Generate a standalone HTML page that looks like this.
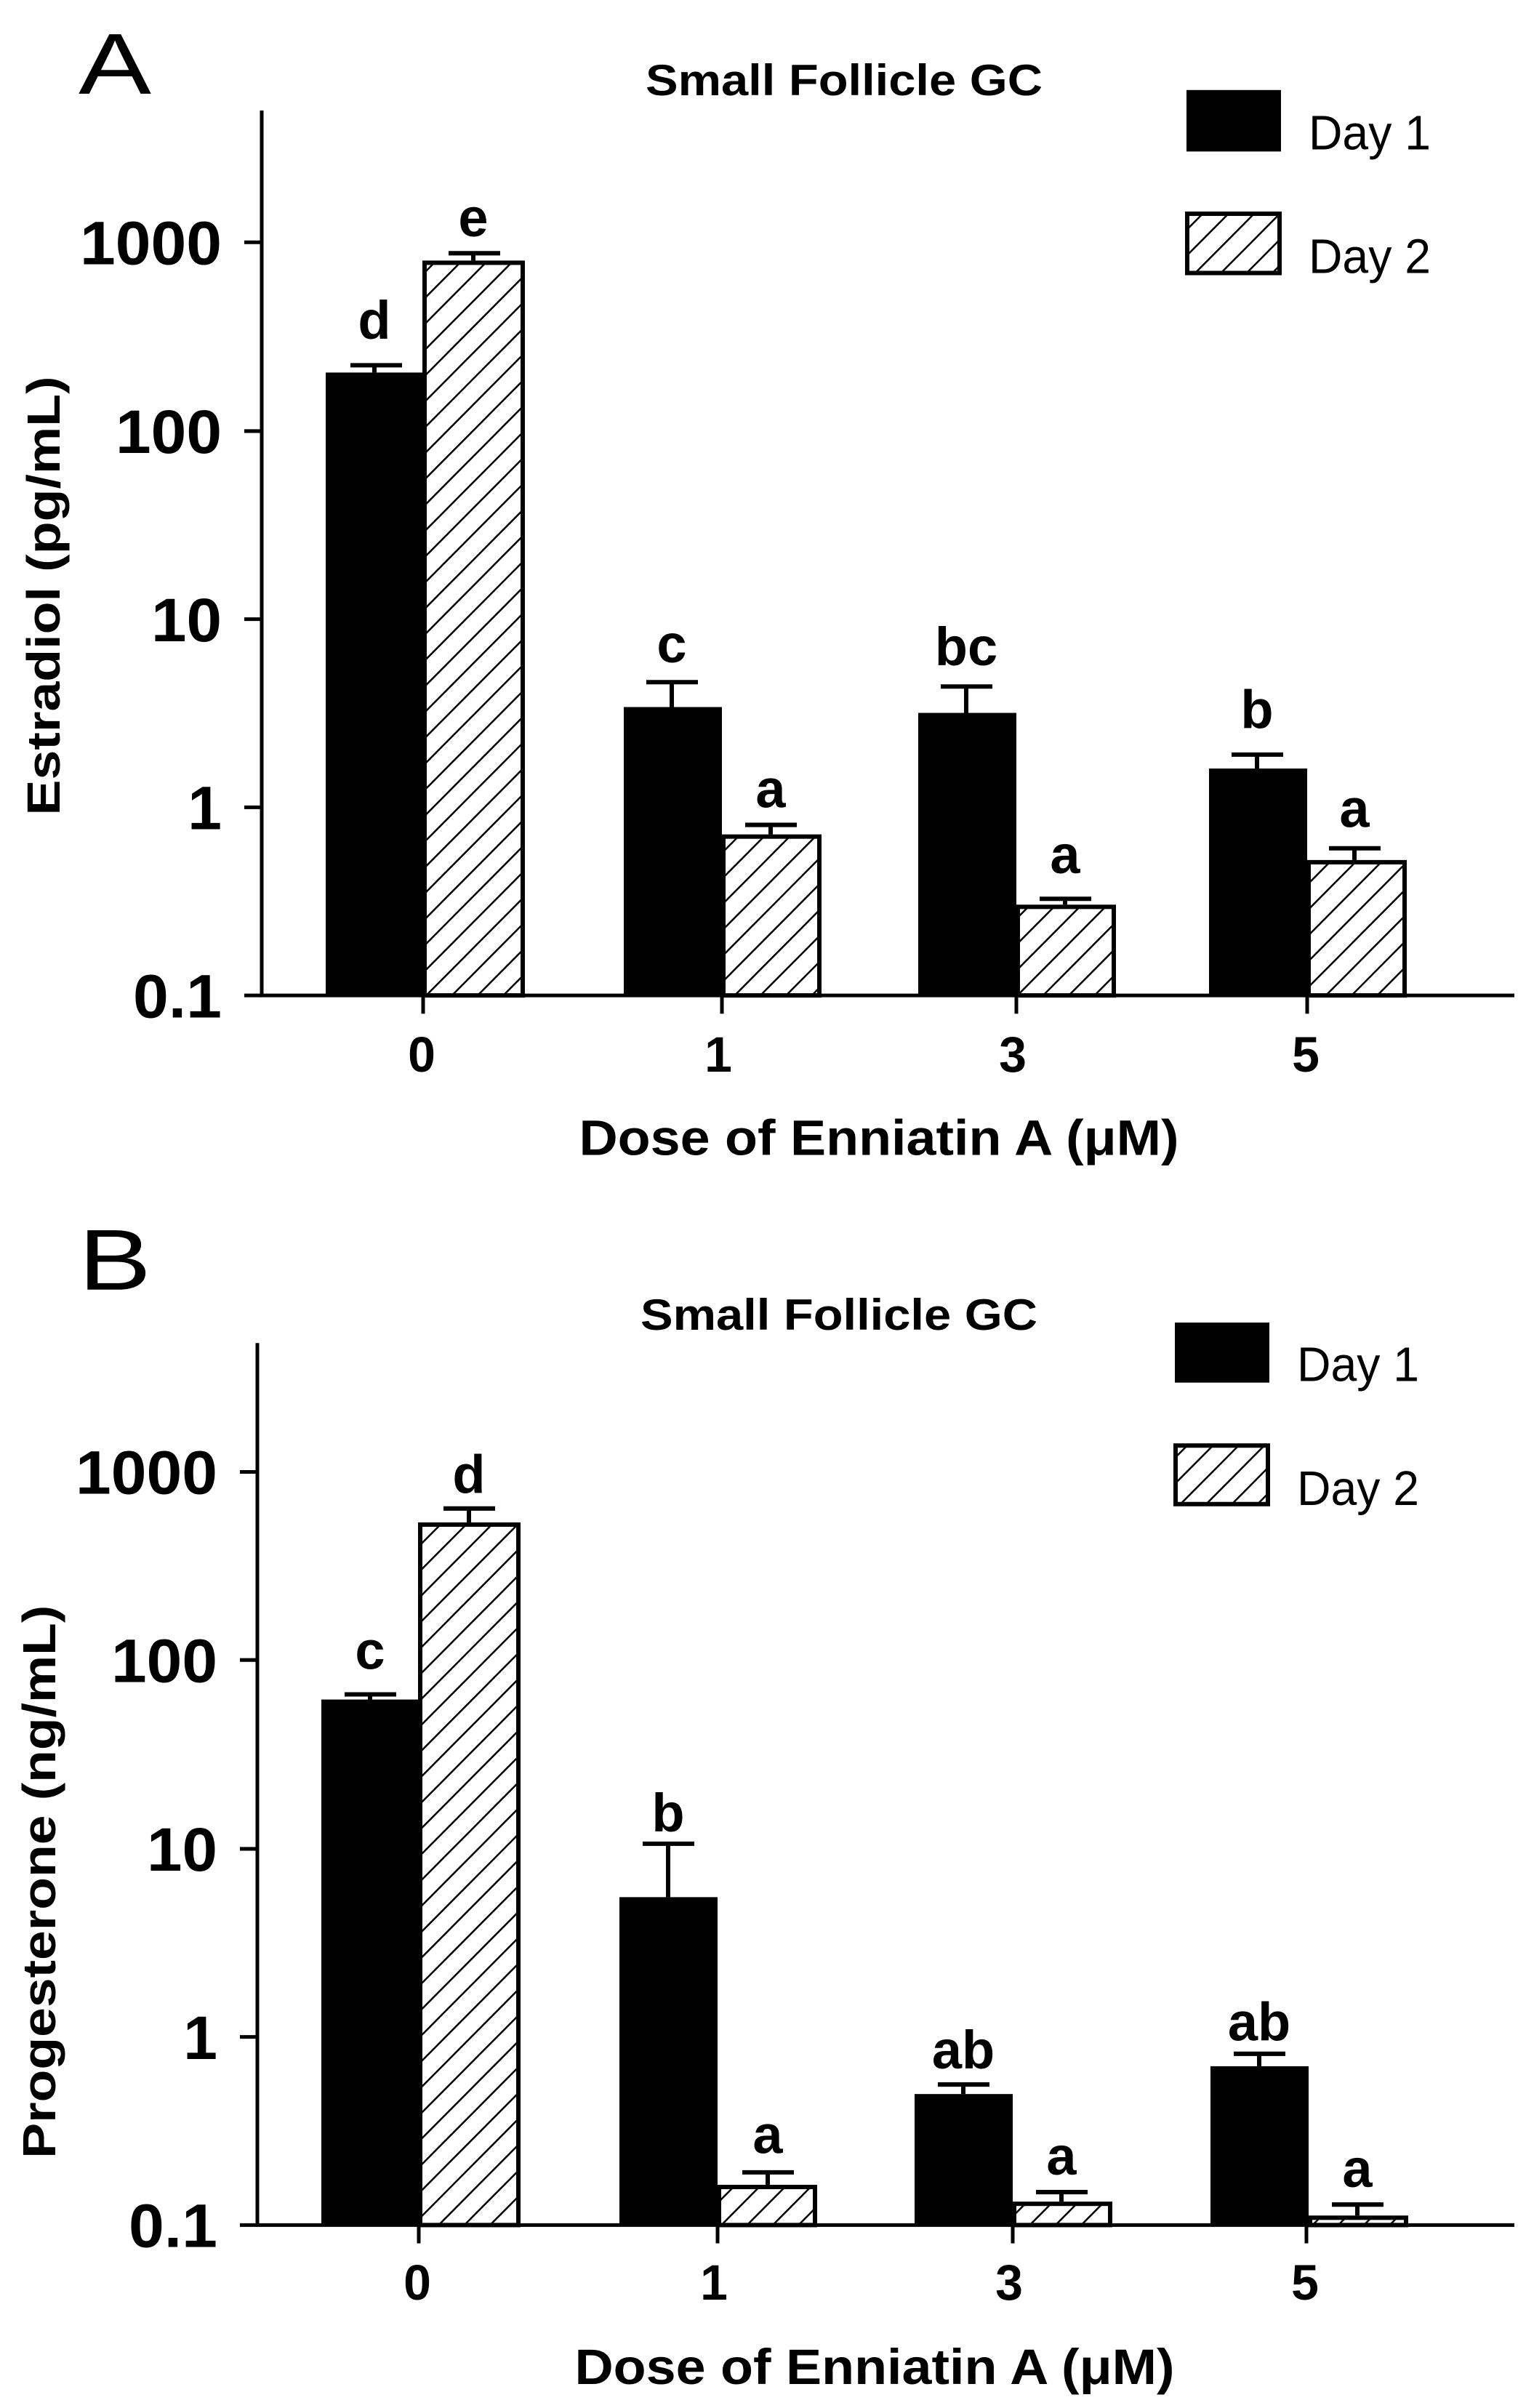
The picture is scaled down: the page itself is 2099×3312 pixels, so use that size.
<!DOCTYPE html>
<html><head><meta charset="utf-8"><style>
html,body{margin:0;padding:0;background:#fff;}
svg{display:block;}
text{font-family:"Liberation Sans",Arial,sans-serif;fill:#000;}
.b{font-weight:bold;}
</style></head><body>
<svg width="2099" height="3312" viewBox="0 0 2099 3312" xmlns="http://www.w3.org/2000/svg">
<defs>
<pattern id="h" patternUnits="userSpaceOnUse" width="25" height="25" patternTransform="rotate(45)">
<rect width="25" height="25" fill="#fff"/>
<line x1="0" y1="0" x2="0" y2="25" stroke="#000" stroke-width="5"/>
</pattern>
</defs>
<g transform="scale(1,1.0067)">
<!-- ============ PANEL A ============ -->
<text x="108" y="128" font-size="118" textLength="100" lengthAdjust="spacingAndGlyphs">A</text>
<text class="b" x="1161" y="130" font-size="60" text-anchor="middle" textLength="546" lengthAdjust="spacingAndGlyphs">Small Follicle GC</text>
<rect x="1632" y="123" width="130" height="84" fill="#000"/>
<rect x="1633" y="292" width="127" height="81" fill="url(#h)" stroke="#000" stroke-width="6"/>
<text x="1800" y="204" font-size="66" textLength="168" lengthAdjust="spacingAndGlyphs">Day 1</text>
<text x="1800" y="373" font-size="66" textLength="168" lengthAdjust="spacingAndGlyphs">Day 2</text>
<line x1="360" y1="151" x2="360" y2="1362" stroke="#000" stroke-width="5"/>
<line x1="358" y1="1360" x2="2083" y2="1360" stroke="#000" stroke-width="5"/>
<g stroke="#000" stroke-width="5">
<line x1="336" y1="331" x2="360" y2="331"/><line x1="336" y1="589" x2="360" y2="589"/>
<line x1="336" y1="846" x2="360" y2="846"/><line x1="336" y1="1103" x2="360" y2="1103"/>
<line x1="336" y1="1360" x2="360" y2="1360"/>
<line x1="582" y1="1360" x2="582" y2="1385"/><line x1="993" y1="1360" x2="993" y2="1385"/>
<line x1="1398" y1="1360" x2="1398" y2="1385"/><line x1="1798" y1="1360" x2="1798" y2="1385"/>
</g>
<g class="b" font-size="84" text-anchor="end">
<text x="305" y="361" textLength="195" lengthAdjust="spacingAndGlyphs">1000</text>
<text x="305" y="619" textLength="146" lengthAdjust="spacingAndGlyphs">100</text>
<text x="305" y="876" textLength="97" lengthAdjust="spacingAndGlyphs">10</text>
<text x="305" y="1133">1</text>
<text x="305" y="1390" textLength="122" lengthAdjust="spacingAndGlyphs">0.1</text>
</g>
<g class="b" font-size="68" text-anchor="middle">
<text x="580" y="1464">0</text><text x="988" y="1464">1</text>
<text x="1393" y="1464">3</text><text x="1796" y="1464">5</text>
</g>
<text class="b" x="1209" y="1578" font-size="68" text-anchor="middle" textLength="825" lengthAdjust="spacingAndGlyphs">Dose of Enniatin A (μM)</text>
<text class="b" transform="translate(82,814) rotate(-90)" font-size="64" text-anchor="middle" textLength="600" lengthAdjust="spacingAndGlyphs">Estradiol  (pg/mL)</text>
<g stroke="#000" stroke-width="6">
<line x1="515" y1="499" x2="515" y2="509"/><line x1="482" y1="499" x2="553" y2="499"/>
<line x1="651" y1="346" x2="651" y2="356"/><line x1="617" y1="346" x2="688" y2="346"/>
<line x1="924" y1="932" x2="924" y2="966"/><line x1="889" y1="932" x2="960" y2="932"/>
<line x1="1060" y1="1127" x2="1060" y2="1140"/><line x1="1025" y1="1127" x2="1096" y2="1127"/>
<line x1="1329" y1="938" x2="1329" y2="974"/><line x1="1294" y1="938" x2="1365" y2="938"/>
<line x1="1465" y1="1228" x2="1465" y2="1236"/><line x1="1430" y1="1228" x2="1501" y2="1228"/>
<line x1="1729" y1="1031" x2="1729" y2="1050"/><line x1="1694" y1="1031" x2="1765" y2="1031"/>
<line x1="1863" y1="1159" x2="1863" y2="1175"/><line x1="1828" y1="1159" x2="1899" y2="1159"/>
</g>
<rect x="448" y="509" width="135" height="851" fill="#000"/>
<rect x="584" y="359" width="135" height="1001" fill="url(#h)" stroke="#000" stroke-width="6"/>
<rect x="858" y="966" width="135" height="394" fill="#000"/>
<rect x="995" y="1143" width="132" height="217" fill="url(#h)" stroke="#000" stroke-width="6"/>
<rect x="1263" y="974" width="135" height="386" fill="#000"/>
<rect x="1400" y="1239" width="132" height="121" fill="url(#h)" stroke="#000" stroke-width="6"/>
<rect x="1663" y="1050" width="135" height="310" fill="#000"/>
<rect x="1800" y="1178" width="132" height="182" fill="url(#h)" stroke="#000" stroke-width="6"/>
<g class="b" font-size="74" text-anchor="middle">
<text x="515" y="463">d</text><text x="651" y="323">e</text>
<text x="924" y="905">c</text><text x="1060" y="1103">a</text>
<text x="1329" y="909">bc</text><text x="1465" y="1193">a</text>
<text x="1729" y="995">b</text><text x="1863" y="1130">a</text>
</g>

<!-- ============ PANEL B ============ -->
<text x="108" y="1762" font-size="118" textLength="100" lengthAdjust="spacingAndGlyphs">B</text>
<text class="b" x="1154" y="1817" font-size="60" text-anchor="middle" textLength="546" lengthAdjust="spacingAndGlyphs">Small Follicle GC</text>
<rect x="1616" y="1807" width="130" height="82" fill="#000"/>
<rect x="1617" y="1975" width="127" height="80" fill="url(#h)" stroke="#000" stroke-width="6"/>
<text x="1784" y="1887" font-size="66" textLength="168" lengthAdjust="spacingAndGlyphs">Day 1</text>
<text x="1784" y="2056" font-size="66" textLength="168" lengthAdjust="spacingAndGlyphs">Day 2</text>
<line x1="354" y1="1835" x2="354" y2="3042" stroke="#000" stroke-width="5"/>
<line x1="352" y1="3040" x2="2083" y2="3040" stroke="#000" stroke-width="5"/>
<g stroke="#000" stroke-width="5">
<line x1="330" y1="2011" x2="354" y2="2011"/><line x1="330" y1="2268" x2="354" y2="2268"/>
<line x1="330" y1="2526" x2="354" y2="2526"/><line x1="330" y1="2783" x2="354" y2="2783"/>
<line x1="330" y1="3040" x2="354" y2="3040"/>
<line x1="576" y1="3040" x2="576" y2="3065"/><line x1="987" y1="3040" x2="987" y2="3065"/>
<line x1="1393" y1="3040" x2="1393" y2="3065"/><line x1="1797" y1="3040" x2="1797" y2="3065"/>
</g>
<g class="b" font-size="84" text-anchor="end">
<text x="299" y="2041" textLength="195" lengthAdjust="spacingAndGlyphs">1000</text>
<text x="299" y="2298" textLength="146" lengthAdjust="spacingAndGlyphs">100</text>
<text x="299" y="2556" textLength="97" lengthAdjust="spacingAndGlyphs">10</text>
<text x="299" y="2813">1</text>
<text x="299" y="3070" textLength="122" lengthAdjust="spacingAndGlyphs">0.1</text>
</g>
<g class="b" font-size="68" text-anchor="middle">
<text x="574" y="3142">0</text><text x="982" y="3142">1</text>
<text x="1388" y="3142">3</text><text x="1795" y="3142">5</text>
</g>
<text class="b" x="1203" y="3257" font-size="68" text-anchor="middle" textLength="825" lengthAdjust="spacingAndGlyphs">Dose of Enniatin A (μM)</text>
<text class="b" transform="translate(76,2571) rotate(-90)" font-size="64" text-anchor="middle" textLength="756" lengthAdjust="spacingAndGlyphs">Progesterone  (ng/mL)</text>
<g stroke="#000" stroke-width="6">
<line x1="509" y1="2315" x2="509" y2="2322"/><line x1="474" y1="2315" x2="545" y2="2315"/>
<line x1="645" y1="2061" x2="645" y2="2080"/><line x1="610" y1="2061" x2="681" y2="2061"/>
<line x1="919" y1="2519" x2="919" y2="2592"/><line x1="884" y1="2519" x2="955" y2="2519"/>
<line x1="1056" y1="2968" x2="1056" y2="2985"/><line x1="1021" y1="2968" x2="1092" y2="2968"/>
<line x1="1325" y1="2848" x2="1325" y2="2861"/><line x1="1290" y1="2848" x2="1361" y2="2848"/>
<line x1="1460" y1="2995" x2="1460" y2="3008"/><line x1="1425" y1="2995" x2="1496" y2="2995"/>
<line x1="1732" y1="2806" x2="1732" y2="2823"/><line x1="1697" y1="2806" x2="1768" y2="2806"/>
<line x1="1867" y1="3012" x2="1867" y2="3027"/><line x1="1832" y1="3012" x2="1903" y2="3012"/>
</g>
<rect x="442" y="2322" width="135" height="718" fill="#000"/>
<rect x="578" y="2083" width="135" height="957" fill="url(#h)" stroke="#000" stroke-width="6"/>
<rect x="852" y="2592" width="135" height="448" fill="#000"/>
<rect x="989" y="2988" width="132" height="52" fill="url(#h)" stroke="#000" stroke-width="6"/>
<rect x="1258" y="2861" width="135" height="179" fill="#000"/>
<rect x="1395" y="3011" width="132" height="29" fill="url(#h)" stroke="#000" stroke-width="6"/>
<rect x="1665" y="2823" width="135" height="217" fill="#000"/>
<rect x="1802" y="3030" width="132" height="10" fill="url(#h)" stroke="#000" stroke-width="6"/>
<g class="b" font-size="74" text-anchor="middle">
<text x="509" y="2280">c</text><text x="645" y="2040">d</text>
<text x="919" y="2502">b</text><text x="1056" y="2942">a</text>
<text x="1325" y="2826">ab</text><text x="1460" y="2971">a</text>
<text x="1732" y="2788">ab</text><text x="1867" y="2988">a</text>
</g>
</g>
</svg>
</body></html>
